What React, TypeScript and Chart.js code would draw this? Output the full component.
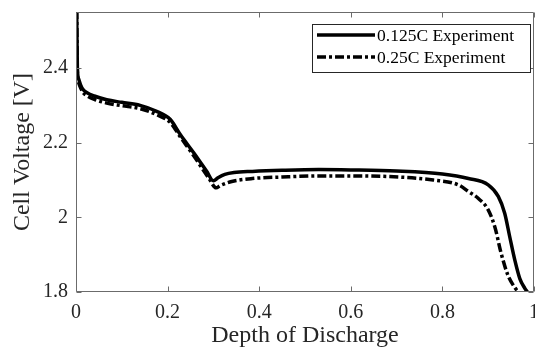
import React, { useEffect, useRef } from 'react';
import { Chart, registerables } from 'chart.js';

Chart.register(...registerables);

const seriesNames = ['0.125C Experiment', '0.25C Experiment'];

const depth125 = [0, 0.0015, 0.003, 0.006, 0.01, 0.015, 0.025, 0.04, 0.067, 0.1, 0.14, 0.176, 0.206, 0.228, 0.257, 0.285, 0.3, 0.31, 0.325, 0.345, 0.385, 0.45, 0.53, 0.6, 0.7, 0.8, 0.857, 0.9, 0.922, 0.936, 0.947, 0.958, 0.969, 0.98, 0.99, 1.0];
const volt125 = [2.7, 2.55, 2.40, 2.37, 2.355, 2.343, 2.333, 2.325, 2.315, 2.308, 2.3, 2.284, 2.262, 2.221, 2.173, 2.124, 2.098, 2.106, 2.115, 2.12, 2.123, 2.126, 2.128, 2.127, 2.124, 2.116, 2.104, 2.087, 2.056, 2.011, 1.948, 1.886, 1.836, 1.81, 1.792, 1.765];

const depth25 = [0, 0.0015, 0.003, 0.006, 0.01, 0.015, 0.025, 0.04, 0.067, 0.1, 0.14, 0.176, 0.206, 0.228, 0.257, 0.29, 0.306, 0.315, 0.34, 0.385, 0.45, 0.53, 0.6, 0.704, 0.78, 0.835, 0.857, 0.878, 0.9, 0.915, 0.928, 0.943, 0.958, 0.972, 0.985];
const volt25 = [2.7, 2.55, 2.39, 2.36, 2.347, 2.335, 2.325, 2.316, 2.306, 2.299, 2.291, 2.275, 2.254, 2.215, 2.165, 2.105, 2.079, 2.085, 2.096, 2.104, 2.108, 2.111, 2.111, 2.108, 2.1, 2.087, 2.069, 2.051, 2.02, 1.972, 1.905, 1.845, 1.812, 1.79, 1.76];

const xTicks = [0, 0.2, 0.4, 0.6, 0.8, 1];
const yTicks = [1.8, 2, 2.2, 2.4];

const AXIS_COLOR = '#6b6b6b';
const TEXT_COLOR = '#262626';
const SERIF = '"Liberation Serif", "Times New Roman", serif';

const framePlugin = {
  id: 'frame',
  afterDraw(chart: any) {
    const { ctx, chartArea } = chart;
    const { left, right, top, bottom } = chartArea;
    const xs = chart.scales.x;
    const ys = chart.scales.y;
    ctx.save();
    ctx.strokeStyle = AXIS_COLOR;
    ctx.lineWidth = 1;
    const L = Math.round(left) + 0.5;
    const R = Math.round(right) - 0.5;
    const T = Math.round(top) + 0.5;
    const B = Math.round(bottom) - 0.5;
    ctx.beginPath();
    ctx.moveTo(L, T); ctx.lineTo(R, T); ctx.lineTo(R, B); ctx.lineTo(L, B); ctx.closePath();
    ctx.stroke();
    const tl = 5;
    ctx.beginPath();
    xTicks.forEach((v) => {
      const px = Math.round(xs.getPixelForValue(v)) + 0.5;
      ctx.moveTo(px, B); ctx.lineTo(px, B - tl);
      ctx.moveTo(px, T); ctx.lineTo(px, T + tl);
    });
    yTicks.forEach((v) => {
      const py = Math.round(ys.getPixelForValue(v)) + 0.5;
      ctx.moveTo(L, py); ctx.lineTo(L + tl, py);
      ctx.moveTo(R, py); ctx.lineTo(R - tl, py);
    });
    ctx.stroke();

    // legend
    const bx = 312.5, by = 24.5, bw = 218, bh = 48;
    ctx.fillStyle = '#ffffff';
    ctx.fillRect(bx, by, bw, bh);
    ctx.strokeStyle = '#262626';
    ctx.strokeRect(bx, by, bw, bh);
    const rows = [35, 57];
    chart.data.datasets.forEach((ds: any, i: number) => {
      const y = rows[i];
      ctx.save();
      ctx.strokeStyle = '#000';
      ctx.lineWidth = 3.5;
      ctx.setLineDash(ds.borderDash || []);
      ctx.beginPath();
      ctx.moveTo(317, y); ctx.lineTo(375, y);
      ctx.stroke();
      ctx.restore();
      ctx.fillStyle = '#000';
      ctx.font = '17.5px ' + SERIF;
      ctx.textBaseline = 'middle';
      ctx.textAlign = 'left';
      ctx.fillText(seriesNames[i], 377, y + 1);
    });
    ctx.restore();
  },
};

export default function App() {
  const ref = useRef<HTMLCanvasElement | null>(null);
  useEffect(() => {
    document.body.style.margin = '0';
    const canvas = ref.current;
    if (!canvas) return;
    const chart = new Chart(canvas, {
      type: 'line',
      data: {
        datasets: [
          {
            label: seriesNames[0],
            data: depth125.map((d, i) => ({ x: d, y: volt125[i] })),
            borderColor: '#000',
            borderWidth: 3.5,
            pointRadius: 0,
            fill: false,
            cubicInterpolationMode: 'monotone',
            borderJoinStyle: 'round',
          },
          {
            label: seriesNames[1],
            data: depth25.map((d, i) => ({ x: d, y: volt25[i] })),
            borderColor: '#000',
            borderWidth: 3.5,
            borderDash: [9, 3, 3, 3],
            pointRadius: 0,
            fill: false,
            cubicInterpolationMode: 'monotone',
            borderJoinStyle: 'round',
          },
        ],
      },
      options: {
        responsive: false,
        animation: false,
        layout: { padding: { left: 0, right: 1, top: 12, bottom: 0 } },
        plugins: { legend: { display: false }, tooltip: { enabled: false } },
        scales: {
          x: {
            type: 'linear',
            min: 0,
            max: 1,
            grid: { display: false, drawTicks: false },
            border: { display: false },
            afterBuildTicks: (s: any) => { s.ticks = xTicks.map((v) => ({ value: v })); },
            afterFit: (s: any) => { s.height = 55; s.paddingLeft = 0; s.paddingRight = 0; },
            ticks: {
              color: TEXT_COLOR,
              font: { family: SERIF, size: 20 },
              padding: 9,
              maxRotation: 0,
              autoSkip: false,
              callback: (v: any) => String(v),
            },
            title: {
              display: true,
              text: 'Depth of Discharge',
              color: TEXT_COLOR,
              font: { family: SERIF, size: 24, lineHeight: 1 },
              padding: { top: 0, bottom: -1 },
            },
          },
          y: {
            type: 'linear',
            min: 1.8,
            max: 2.55,
            grid: { display: false, drawTicks: false },
            border: { display: false },
            afterBuildTicks: (s: any) => { s.ticks = yTicks.map((v) => ({ value: v })); },
            afterFit: (s: any) => { s.width = 76; s.paddingTop = 0; s.paddingBottom = 0; },
            ticks: {
              color: TEXT_COLOR,
              font: { family: SERIF, size: 20 },
              padding: 8,
              autoSkip: false,
              callback: (v: any) => String(v),
            },
            title: {
              display: true,
              text: 'Cell Voltage [V]',
              color: TEXT_COLOR,
              font: { family: SERIF, size: 24, lineHeight: 1 },
              padding: { top: 11, bottom: 0 },
            },
          },
        },
      },
      plugins: [framePlugin],
    } as any);
    return () => chart.destroy();
  }, []);
  return <canvas ref={ref} width={535} height={347} style={{ display: 'block', width: 535, height: 347 }} />;
}
